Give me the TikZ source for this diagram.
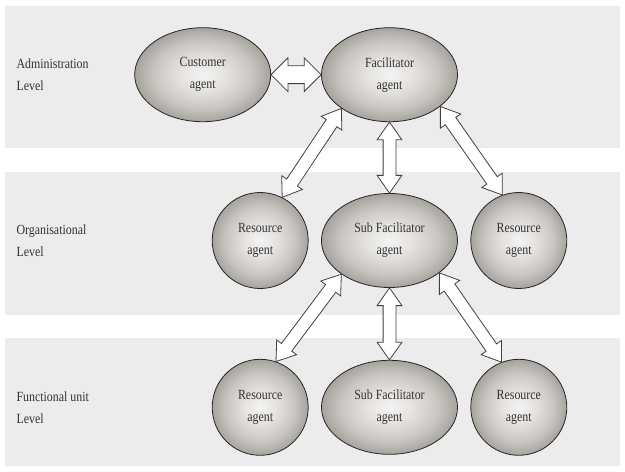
\documentclass[tikz,border=0pt]{standalone}
\usepackage{fontspec}
\setmainfont{Liberation Serif}[FakeStretch=0.85]
\usetikzlibrary{shapes.geometric}
\usetikzlibrary{shapes.arrows}
\usetikzlibrary{calc}
\usetikzlibrary{positioning}

\definecolor{bandgray}{HTML}{ECECEC}
\definecolor{inkgray}{HTML}{333333}
\definecolor{coregray}{HTML}{F4F3F2}
\definecolor{innergray}{HTML}{E6E4E2}
\definecolor{midgray}{HTML}{C9C5C1}
\definecolor{rimgray}{HTML}{A6A29E}
\pgfdeclareradialshading{agentshade}{\pgfpoint{0bp}{0bp}}{color(0bp)=(coregray); color(8bp)=(innergray); color(18bp)=(midgray); color(25bp)=(rimgray); color(50bp)=(rimgray)}

\begin{document}
\begin{tikzpicture}
[x=1pt, y=-1pt,
every node/.style = {font=\fontsize{14}{22}\selectfont},
agent/.style    = {ellipse, draw=black!85, line width=0.8pt, shade, shading=agentshade, text=inkgray, align=center, inner sep=0pt},
wide/.style     = {agent, minimum width=136pt, minimum height=94pt},
round/.style    = {agent, minimum width=96pt, minimum height=96pt},
level/.style    = {anchor=west, align=left, text=inkgray},
band/.style     = {fill=bandgray},
dblarrow/.style = {double arrow, draw=black!75, line width=0.8pt, fill=white, inner xsep=0pt, inner ysep=6pt, double arrow head extend=6pt, double arrow tip angle=70},
big/.style      = {inner ysep=8.5pt, double arrow head extend=8pt, double arrow tip angle=90},
link/.style     = {to path={let \p1=(\tikztostart), \p2=(\tikztotarget), \n1={veclen(\x2-\x1,\y2-\y1)} in (\tikztostart) -- node [dblarrow, sloped, minimum height=\n1, #1] {} (\tikztotarget)}},
link/.default   = {}
]

\useasboundingbox (0,0) rectangle (625,472);

% level bands
\fill[band] (5,6) rectangle (620,148);
\fill[band] (5,172) rectangle (620,315);
\fill[band] (5,338) rectangle (620,466);

\matrix (agents) [column sep=12.5pt, row sep=70pt] at (389.5,241.5)
{
% administration level
&
\node [wide] (fac) {Facilitator\\agent};&
\\
% organisational level
\node [round] (res_org_l) {Resource\\agent};&
\node [wide] (sub_org) {Sub Facilitator\\agent};&
\node [round] (res_org_r) {Resource\\agent};\\
% functional unit level
\node [round] (res_fun_l) {Resource\\agent};&
\node [wide] (sub_fun) {Sub Facilitator\\agent};&
\node [round] (res_fun_r) {Resource\\agent};\\
};

\node [wide, left=50pt of fac] (cust) {Customer\\agent};

% level names
\node [level] (lbl_adm) at (13,0 |- fac) {Administration\\Level};
\node [level] (lbl_org) at (13,0 |- sub_org) {Organisational\\Level};
\node [level] (lbl_fun) at (13,0 |- sub_fun) {Functional unit\\Level};

\path (cust.east) to [link=big] (fac.west);
\path (fac.215) to [link] (res_org_l.63);
\path (fac.south) to [link] (sub_org.north);
\path (fac.328) to [link] (res_org_r.110);
\path (sub_org.215) to [link] (res_fun_l.71);
\path (sub_org.south) to [link] (sub_fun.north);
\path (sub_org.327) to [link] (res_fun_r.111);

\end{tikzpicture}
\end{document}
